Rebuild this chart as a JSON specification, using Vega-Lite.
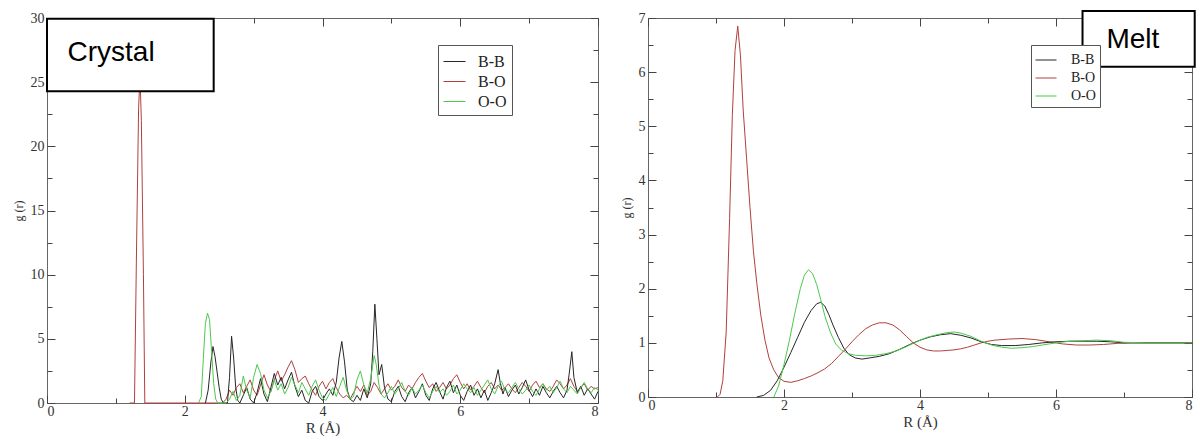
{
  "$schema": "https://vega.github.io/schema/vega-lite/v6.json",
  "background": "white",
  "padding": {"left": 11, "top": 9, "right": 2, "bottom": 2},
  "spacing": 18,
  "datasets": {
    "crystal": [
      {"pair":"B-O","r":1.20,"g":0},{"pair":"B-O","r":1.27,"g":0},{"pair":"B-O","r":1.30,"g":12},{"pair":"B-O","r":1.33,"g":23},{"pair":"B-O","r":1.35,"g":25.5},{"pair":"B-O","r":1.37,"g":22},{"pair":"B-O","r":1.40,"g":10},{"pair":"B-O","r":1.42,"g":0},{"pair":"B-O","r":2.55,"g":0},
      {"pair":"B-O","r":2.60,"g":0.3},{"pair":"B-O","r":2.65,"g":1.0},{"pair":"B-O","r":2.70,"g":0.6},{"pair":"B-O","r":2.75,"g":1.2},{"pair":"B-O","r":2.80,"g":1.5},{"pair":"B-O","r":2.85,"g":0.8},{"pair":"B-O","r":2.90,"g":1.3},{"pair":"B-O","r":2.95,"g":1.8},{"pair":"B-O","r":3.00,"g":1.0},{"pair":"B-O","r":3.05,"g":0.6},{"pair":"B-O","r":3.10,"g":1.4},{"pair":"B-O","r":3.15,"g":2.2},{"pair":"B-O","r":3.20,"g":1.4},{"pair":"B-O","r":3.25,"g":0.9},{"pair":"B-O","r":3.30,"g":1.8},{"pair":"B-O","r":3.35,"g":2.5},{"pair":"B-O","r":3.40,"g":1.7},{"pair":"B-O","r":3.45,"g":2.2},{"pair":"B-O","r":3.50,"g":2.8},{"pair":"B-O","r":3.55,"g":3.3},{"pair":"B-O","r":3.60,"g":2.6},{"pair":"B-O","r":3.65,"g":1.6},{"pair":"B-O","r":3.70,"g":1.9},{"pair":"B-O","r":3.75,"g":2.1},{"pair":"B-O","r":3.80,"g":1.5},{"pair":"B-O","r":3.85,"g":1.0},{"pair":"B-O","r":3.90,"g":0.6},{"pair":"B-O","r":3.95,"g":1.3},{"pair":"B-O","r":4.00,"g":1.7},{"pair":"B-O","r":4.05,"g":1.1},{"pair":"B-O","r":4.10,"g":1.6},{"pair":"B-O","r":4.15,"g":1.9},{"pair":"B-O","r":4.20,"g":1.2},{"pair":"B-O","r":4.25,"g":0.7},{"pair":"B-O","r":4.30,"g":0.4},{"pair":"B-O","r":4.35,"g":0.6},{"pair":"B-O","r":4.40,"g":0.3},{"pair":"B-O","r":4.45,"g":0.8},{"pair":"B-O","r":4.50,"g":1.3},{"pair":"B-O","r":4.55,"g":0.9},{"pair":"B-O","r":4.60,"g":1.4},{"pair":"B-O","r":4.65,"g":0.6},{"pair":"B-O","r":4.70,"g":0.9},{"pair":"B-O","r":4.75,"g":1.6},{"pair":"B-O","r":4.80,"g":1.2},{"pair":"B-O","r":4.85,"g":0.7},{"pair":"B-O","r":4.90,"g":1.1},{"pair":"B-O","r":4.95,"g":1.5},{"pair":"B-O","r":5.00,"g":1.0},{"pair":"B-O","r":5.05,"g":1.3},{"pair":"B-O","r":5.10,"g":1.8},{"pair":"B-O","r":5.15,"g":1.2},{"pair":"B-O","r":5.20,"g":0.9},{"pair":"B-O","r":5.25,"g":1.4},{"pair":"B-O","r":5.30,"g":1.1},{"pair":"B-O","r":5.35,"g":1.6},{"pair":"B-O","r":5.40,"g":2.0},{"pair":"B-O","r":5.45,"g":2.3},{"pair":"B-O","r":5.50,"g":1.7},{"pair":"B-O","r":5.55,"g":1.2},{"pair":"B-O","r":5.60,"g":1.5},{"pair":"B-O","r":5.65,"g":0.9},{"pair":"B-O","r":5.70,"g":1.2},{"pair":"B-O","r":5.75,"g":1.6},{"pair":"B-O","r":5.80,"g":1.1},{"pair":"B-O","r":5.85,"g":1.4},{"pair":"B-O","r":5.90,"g":1.9},{"pair":"B-O","r":5.95,"g":2.2},{"pair":"B-O","r":6.00,"g":1.6},{"pair":"B-O","r":6.05,"g":1.1},{"pair":"B-O","r":6.10,"g":1.5},{"pair":"B-O","r":6.15,"g":1.0},{"pair":"B-O","r":6.20,"g":1.3},{"pair":"B-O","r":6.25,"g":1.7},{"pair":"B-O","r":6.30,"g":1.2},{"pair":"B-O","r":6.35,"g":0.8},{"pair":"B-O","r":6.40,"g":1.3},{"pair":"B-O","r":6.45,"g":1.6},{"pair":"B-O","r":6.50,"g":1.1},{"pair":"B-O","r":6.55,"g":1.4},{"pair":"B-O","r":6.60,"g":1.0},{"pair":"B-O","r":6.65,"g":1.2},{"pair":"B-O","r":6.70,"g":1.5},{"pair":"B-O","r":6.75,"g":1.1},{"pair":"B-O","r":6.80,"g":0.8},{"pair":"B-O","r":6.85,"g":1.2},{"pair":"B-O","r":6.90,"g":1.6},{"pair":"B-O","r":6.95,"g":1.3},{"pair":"B-O","r":7.00,"g":0.9},{"pair":"B-O","r":7.05,"g":1.4},{"pair":"B-O","r":7.10,"g":1.7},{"pair":"B-O","r":7.15,"g":1.2},{"pair":"B-O","r":7.20,"g":1.5},{"pair":"B-O","r":7.25,"g":1.1},{"pair":"B-O","r":7.30,"g":0.9},{"pair":"B-O","r":7.35,"g":1.3},{"pair":"B-O","r":7.40,"g":1.8},{"pair":"B-O","r":7.45,"g":1.5},{"pair":"B-O","r":7.50,"g":1.1},{"pair":"B-O","r":7.55,"g":1.4},{"pair":"B-O","r":7.60,"g":1.9},{"pair":"B-O","r":7.65,"g":1.3},{"pair":"B-O","r":7.70,"g":0.9},{"pair":"B-O","r":7.75,"g":1.2},{"pair":"B-O","r":7.80,"g":1.5},{"pair":"B-O","r":7.85,"g":1.0},{"pair":"B-O","r":7.90,"g":1.3},{"pair":"B-O","r":7.95,"g":1.1},{"pair":"B-O","r":8.00,"g":1.2},
      {"pair":"B-B","r":2.30,"g":0},{"pair":"B-B","r":2.34,"g":1.0},{"pair":"B-B","r":2.38,"g":3.2},{"pair":"B-B","r":2.41,"g":4.4},{"pair":"B-B","r":2.44,"g":3.6},{"pair":"B-B","r":2.47,"g":2.4},{"pair":"B-B","r":2.50,"g":1.2},{"pair":"B-B","r":2.53,"g":0.3},{"pair":"B-B","r":2.56,"g":0},{"pair":"B-B","r":2.62,"g":0},{"pair":"B-B","r":2.65,"g":2.0},{"pair":"B-B","r":2.68,"g":5.2},{"pair":"B-B","r":2.71,"g":3.5},{"pair":"B-B","r":2.74,"g":1.2},{"pair":"B-B","r":2.77,"g":0.2},{"pair":"B-B","r":2.80,"g":0},{"pair":"B-B","r":2.85,"g":0.6},{"pair":"B-B","r":2.90,"g":1.2},{"pair":"B-B","r":2.95,"g":0.3},{"pair":"B-B","r":3.00,"g":0},{"pair":"B-B","r":3.05,"g":0.8},{"pair":"B-B","r":3.10,"g":1.9},{"pair":"B-B","r":3.15,"g":0.7},{"pair":"B-B","r":3.20,"g":0.1},{"pair":"B-B","r":3.25,"g":1.2},{"pair":"B-B","r":3.30,"g":2.3},{"pair":"B-B","r":3.35,"g":1.4},{"pair":"B-B","r":3.40,"g":2.0},{"pair":"B-B","r":3.45,"g":1.1},{"pair":"B-B","r":3.50,"g":1.8},{"pair":"B-B","r":3.55,"g":2.4},{"pair":"B-B","r":3.60,"g":1.3},{"pair":"B-B","r":3.65,"g":0.5},{"pair":"B-B","r":3.70,"g":1.0},{"pair":"B-B","r":3.75,"g":0.2},{"pair":"B-B","r":3.80,"g":0},{"pair":"B-B","r":3.85,"g":0.9},{"pair":"B-B","r":3.90,"g":1.3},{"pair":"B-B","r":3.95,"g":0.5},{"pair":"B-B","r":4.00,"g":0.2},{"pair":"B-B","r":4.05,"g":0.7},{"pair":"B-B","r":4.10,"g":1.1},{"pair":"B-B","r":4.15,"g":0.6},{"pair":"B-B","r":4.20,"g":1.6},{"pair":"B-B","r":4.24,"g":3.5},{"pair":"B-B","r":4.28,"g":4.8},{"pair":"B-B","r":4.32,"g":3.2},{"pair":"B-B","r":4.36,"g":1.0},{"pair":"B-B","r":4.40,"g":0.3},{"pair":"B-B","r":4.45,"g":0.1},{"pair":"B-B","r":4.50,"g":0.6},{"pair":"B-B","r":4.55,"g":0.2},{"pair":"B-B","r":4.60,"g":1.1},{"pair":"B-B","r":4.65,"g":0.4},{"pair":"B-B","r":4.70,"g":1.5},{"pair":"B-B","r":4.73,"g":4.0},{"pair":"B-B","r":4.76,"g":7.7},{"pair":"B-B","r":4.79,"g":5.0},{"pair":"B-B","r":4.82,"g":2.2},{"pair":"B-B","r":4.86,"g":3.0},{"pair":"B-B","r":4.90,"g":1.2},{"pair":"B-B","r":4.95,"g":0.3},{"pair":"B-B","r":5.00,"g":0.1},{"pair":"B-B","r":5.05,"g":0.9},{"pair":"B-B","r":5.10,"g":1.3},{"pair":"B-B","r":5.15,"g":0.5},{"pair":"B-B","r":5.20,"g":0.1},{"pair":"B-B","r":5.25,"g":0.8},{"pair":"B-B","r":5.30,"g":1.2},{"pair":"B-B","r":5.35,"g":0.4},{"pair":"B-B","r":5.40,"g":0.9},{"pair":"B-B","r":5.45,"g":1.5},{"pair":"B-B","r":5.50,"g":0.6},{"pair":"B-B","r":5.55,"g":0.2},{"pair":"B-B","r":5.60,"g":1.1},{"pair":"B-B","r":5.65,"g":1.6},{"pair":"B-B","r":5.70,"g":0.9},{"pair":"B-B","r":5.75,"g":0.3},{"pair":"B-B","r":5.80,"g":1.2},{"pair":"B-B","r":5.85,"g":1.7},{"pair":"B-B","r":5.90,"g":0.8},{"pair":"B-B","r":5.95,"g":1.4},{"pair":"B-B","r":6.00,"g":0.6},{"pair":"B-B","r":6.05,"g":0.2},{"pair":"B-B","r":6.10,"g":0.9},{"pair":"B-B","r":6.15,"g":1.4},{"pair":"B-B","r":6.20,"g":0.6},{"pair":"B-B","r":6.25,"g":1.1},{"pair":"B-B","r":6.30,"g":0.4},{"pair":"B-B","r":6.35,"g":1.0},{"pair":"B-B","r":6.40,"g":0.2},{"pair":"B-B","r":6.45,"g":0.8},{"pair":"B-B","r":6.50,"g":1.5},{"pair":"B-B","r":6.55,"g":2.6},{"pair":"B-B","r":6.58,"g":1.6},{"pair":"B-B","r":6.62,"g":0.7},{"pair":"B-B","r":6.65,"g":1.2},{"pair":"B-B","r":6.70,"g":0.5},{"pair":"B-B","r":6.75,"g":1.0},{"pair":"B-B","r":6.80,"g":1.4},{"pair":"B-B","r":6.85,"g":0.7},{"pair":"B-B","r":6.90,"g":1.2},{"pair":"B-B","r":6.95,"g":1.8},{"pair":"B-B","r":7.00,"g":1.0},{"pair":"B-B","r":7.05,"g":0.5},{"pair":"B-B","r":7.10,"g":1.1},{"pair":"B-B","r":7.15,"g":0.6},{"pair":"B-B","r":7.20,"g":1.3},{"pair":"B-B","r":7.25,"g":0.8},{"pair":"B-B","r":7.30,"g":0.4},{"pair":"B-B","r":7.35,"g":0.9},{"pair":"B-B","r":7.40,"g":1.3},{"pair":"B-B","r":7.45,"g":0.8},{"pair":"B-B","r":7.50,"g":0.4},{"pair":"B-B","r":7.55,"g":1.0},{"pair":"B-B","r":7.58,"g":2.2},{"pair":"B-B","r":7.62,"g":4.0},{"pair":"B-B","r":7.65,"g":2.0},{"pair":"B-B","r":7.70,"g":0.8},{"pair":"B-B","r":7.75,"g":1.3},{"pair":"B-B","r":7.80,"g":0.6},{"pair":"B-B","r":7.85,"g":1.1},{"pair":"B-B","r":7.90,"g":0.7},{"pair":"B-B","r":7.95,"g":0.3},{"pair":"B-B","r":8.00,"g":0.9},
      {"pair":"O-O","r":2.20,"g":0},{"pair":"O-O","r":2.24,"g":0.5},{"pair":"O-O","r":2.27,"g":3.5},{"pair":"O-O","r":2.30,"g":6.2},{"pair":"O-O","r":2.33,"g":7.0},{"pair":"O-O","r":2.36,"g":6.5},{"pair":"O-O","r":2.39,"g":4.0},{"pair":"O-O","r":2.42,"g":1.5},{"pair":"O-O","r":2.45,"g":0.3},{"pair":"O-O","r":2.48,"g":0},{"pair":"O-O","r":2.60,"g":0},{"pair":"O-O","r":2.65,"g":0.3},{"pair":"O-O","r":2.70,"g":0.9},{"pair":"O-O","r":2.75,"g":0.2},{"pair":"O-O","r":2.80,"g":0.6},{"pair":"O-O","r":2.85,"g":2.1},{"pair":"O-O","r":2.90,"g":1.0},{"pair":"O-O","r":2.95,"g":0.4},{"pair":"O-O","r":3.00,"g":2.0},{"pair":"O-O","r":3.05,"g":3.0},{"pair":"O-O","r":3.10,"g":2.3},{"pair":"O-O","r":3.15,"g":1.0},{"pair":"O-O","r":3.20,"g":0.4},{"pair":"O-O","r":3.25,"g":0.9},{"pair":"O-O","r":3.30,"g":1.8},{"pair":"O-O","r":3.35,"g":1.0},{"pair":"O-O","r":3.40,"g":1.5},{"pair":"O-O","r":3.45,"g":0.7},{"pair":"O-O","r":3.50,"g":1.2},{"pair":"O-O","r":3.55,"g":2.0},{"pair":"O-O","r":3.60,"g":1.4},{"pair":"O-O","r":3.65,"g":0.8},{"pair":"O-O","r":3.70,"g":1.6},{"pair":"O-O","r":3.75,"g":1.1},{"pair":"O-O","r":3.80,"g":0.6},{"pair":"O-O","r":3.85,"g":1.3},{"pair":"O-O","r":3.90,"g":1.8},{"pair":"O-O","r":3.95,"g":1.0},{"pair":"O-O","r":4.00,"g":0.4},{"pair":"O-O","r":4.05,"g":0.2},{"pair":"O-O","r":4.10,"g":0.7},{"pair":"O-O","r":4.15,"g":1.2},{"pair":"O-O","r":4.20,"g":0.5},{"pair":"O-O","r":4.25,"g":1.3},{"pair":"O-O","r":4.30,"g":2.0},{"pair":"O-O","r":4.35,"g":1.0},{"pair":"O-O","r":4.40,"g":0.3},{"pair":"O-O","r":4.45,"g":0.5},{"pair":"O-O","r":4.50,"g":1.8},{"pair":"O-O","r":4.55,"g":2.5},{"pair":"O-O","r":4.60,"g":1.4},{"pair":"O-O","r":4.65,"g":0.8},{"pair":"O-O","r":4.70,"g":1.9},{"pair":"O-O","r":4.75,"g":3.7},{"pair":"O-O","r":4.78,"g":3.0},{"pair":"O-O","r":4.82,"g":1.4},{"pair":"O-O","r":4.85,"g":0.7},{"pair":"O-O","r":4.90,"g":0.4},{"pair":"O-O","r":4.95,"g":0.8},{"pair":"O-O","r":5.00,"g":1.3},{"pair":"O-O","r":5.05,"g":0.7},{"pair":"O-O","r":5.10,"g":1.1},{"pair":"O-O","r":5.15,"g":1.6},{"pair":"O-O","r":5.20,"g":0.9},{"pair":"O-O","r":5.25,"g":0.6},{"pair":"O-O","r":5.30,"g":1.2},{"pair":"O-O","r":5.35,"g":0.7},{"pair":"O-O","r":5.40,"g":1.0},{"pair":"O-O","r":5.45,"g":1.4},{"pair":"O-O","r":5.50,"g":0.8},{"pair":"O-O","r":5.55,"g":0.4},{"pair":"O-O","r":5.60,"g":0.9},{"pair":"O-O","r":5.65,"g":1.3},{"pair":"O-O","r":5.70,"g":0.8},{"pair":"O-O","r":5.75,"g":1.1},{"pair":"O-O","r":5.80,"g":0.6},{"pair":"O-O","r":5.85,"g":0.9},{"pair":"O-O","r":5.90,"g":1.4},{"pair":"O-O","r":5.95,"g":0.7},{"pair":"O-O","r":6.00,"g":1.0},{"pair":"O-O","r":6.05,"g":1.5},{"pair":"O-O","r":6.10,"g":1.1},{"pair":"O-O","r":6.15,"g":0.8},{"pair":"O-O","r":6.20,"g":1.2},{"pair":"O-O","r":6.25,"g":0.6},{"pair":"O-O","r":6.30,"g":1.0},{"pair":"O-O","r":6.35,"g":1.4},{"pair":"O-O","r":6.40,"g":1.8},{"pair":"O-O","r":6.45,"g":1.1},{"pair":"O-O","r":6.50,"g":0.7},{"pair":"O-O","r":6.55,"g":1.3},{"pair":"O-O","r":6.60,"g":1.7},{"pair":"O-O","r":6.65,"g":1.0},{"pair":"O-O","r":6.70,"g":0.8},{"pair":"O-O","r":6.75,"g":1.2},{"pair":"O-O","r":6.80,"g":1.6},{"pair":"O-O","r":6.85,"g":1.1},{"pair":"O-O","r":6.90,"g":0.7},{"pair":"O-O","r":6.95,"g":1.0},{"pair":"O-O","r":7.00,"g":1.4},{"pair":"O-O","r":7.05,"g":0.9},{"pair":"O-O","r":7.10,"g":0.6},{"pair":"O-O","r":7.15,"g":1.1},{"pair":"O-O","r":7.20,"g":1.5},{"pair":"O-O","r":7.25,"g":1.0},{"pair":"O-O","r":7.30,"g":1.3},{"pair":"O-O","r":7.35,"g":0.8},{"pair":"O-O","r":7.40,"g":1.2},{"pair":"O-O","r":7.45,"g":1.7},{"pair":"O-O","r":7.50,"g":1.1},{"pair":"O-O","r":7.55,"g":0.8},{"pair":"O-O","r":7.60,"g":1.3},{"pair":"O-O","r":7.65,"g":1.0},{"pair":"O-O","r":7.70,"g":0.7},{"pair":"O-O","r":7.75,"g":1.2},{"pair":"O-O","r":7.80,"g":1.6},{"pair":"O-O","r":7.85,"g":1.1},{"pair":"O-O","r":7.90,"g":0.8},{"pair":"O-O","r":7.95,"g":1.2},{"pair":"O-O","r":8.00,"g":1.0}
    ],
    "melt": [
      {"pair":"B-O","r":1.02,"g":0},{"pair":"B-O","r":1.06,"g":0.05},{"pair":"B-O","r":1.10,"g":0.3},{"pair":"B-O","r":1.15,"g":1.2},{"pair":"B-O","r":1.20,"g":3.3},{"pair":"B-O","r":1.24,"g":5.2},{"pair":"B-O","r":1.28,"g":6.4},{"pair":"B-O","r":1.32,"g":6.85},{"pair":"B-O","r":1.36,"g":6.3},{"pair":"B-O","r":1.40,"g":5.3},{"pair":"B-O","r":1.45,"g":4.4},{"pair":"B-O","r":1.50,"g":3.5},{"pair":"B-O","r":1.55,"g":2.7},{"pair":"B-O","r":1.60,"g":2.1},{"pair":"B-O","r":1.66,"g":1.5},{"pair":"B-O","r":1.72,"g":1.05},{"pair":"B-O","r":1.78,"g":0.72},{"pair":"B-O","r":1.85,"g":0.5},{"pair":"B-O","r":1.92,"g":0.36},{"pair":"B-O","r":2.00,"g":0.29},{"pair":"B-O","r":2.10,"g":0.27},{"pair":"B-O","r":2.20,"g":0.3},{"pair":"B-O","r":2.30,"g":0.34},{"pair":"B-O","r":2.40,"g":0.39},{"pair":"B-O","r":2.50,"g":0.45},{"pair":"B-O","r":2.60,"g":0.52},{"pair":"B-O","r":2.70,"g":0.62},{"pair":"B-O","r":2.80,"g":0.75},{"pair":"B-O","r":2.90,"g":0.88},{"pair":"B-O","r":3.00,"g":1.02},{"pair":"B-O","r":3.10,"g":1.15},{"pair":"B-O","r":3.20,"g":1.26},{"pair":"B-O","r":3.30,"g":1.33},{"pair":"B-O","r":3.40,"g":1.37},{"pair":"B-O","r":3.50,"g":1.37},{"pair":"B-O","r":3.60,"g":1.33},{"pair":"B-O","r":3.70,"g":1.24},{"pair":"B-O","r":3.80,"g":1.12},{"pair":"B-O","r":3.90,"g":1.0},{"pair":"B-O","r":4.00,"g":0.92},{"pair":"B-O","r":4.10,"g":0.87},{"pair":"B-O","r":4.20,"g":0.85},{"pair":"B-O","r":4.30,"g":0.85},{"pair":"B-O","r":4.40,"g":0.86},{"pair":"B-O","r":4.50,"g":0.87},{"pair":"B-O","r":4.60,"g":0.89},{"pair":"B-O","r":4.70,"g":0.92},{"pair":"B-O","r":4.80,"g":0.96},{"pair":"B-O","r":4.90,"g":1.0},{"pair":"B-O","r":5.00,"g":1.03},{"pair":"B-O","r":5.10,"g":1.05},{"pair":"B-O","r":5.30,"g":1.07},{"pair":"B-O","r":5.50,"g":1.08},{"pair":"B-O","r":5.70,"g":1.06},{"pair":"B-O","r":5.90,"g":1.02},{"pair":"B-O","r":6.10,"g":0.98},{"pair":"B-O","r":6.30,"g":0.96},{"pair":"B-O","r":6.50,"g":0.96},{"pair":"B-O","r":6.70,"g":0.97},{"pair":"B-O","r":6.90,"g":0.99},{"pair":"B-O","r":7.10,"g":1.0},{"pair":"B-O","r":7.50,"g":1.0},{"pair":"B-O","r":8.00,"g":1.0},
      {"pair":"B-B","r":1.60,"g":0},{"pair":"B-B","r":1.70,"g":0.03},{"pair":"B-B","r":1.80,"g":0.12},{"pair":"B-B","r":1.90,"g":0.3},{"pair":"B-B","r":2.00,"g":0.55},{"pair":"B-B","r":2.10,"g":0.82},{"pair":"B-B","r":2.20,"g":1.1},{"pair":"B-B","r":2.30,"g":1.38},{"pair":"B-B","r":2.40,"g":1.6},{"pair":"B-B","r":2.48,"g":1.72},{"pair":"B-B","r":2.54,"g":1.75},{"pair":"B-B","r":2.60,"g":1.68},{"pair":"B-B","r":2.66,"g":1.52},{"pair":"B-B","r":2.72,"g":1.33},{"pair":"B-B","r":2.80,"g":1.1},{"pair":"B-B","r":2.88,"g":0.9},{"pair":"B-B","r":2.96,"g":0.78},{"pair":"B-B","r":3.05,"g":0.72},{"pair":"B-B","r":3.15,"g":0.7},{"pair":"B-B","r":3.25,"g":0.72},{"pair":"B-B","r":3.40,"g":0.75},{"pair":"B-B","r":3.55,"g":0.8},{"pair":"B-B","r":3.70,"g":0.88},{"pair":"B-B","r":3.85,"g":0.97},{"pair":"B-B","r":4.00,"g":1.05},{"pair":"B-B","r":4.15,"g":1.11},{"pair":"B-B","r":4.30,"g":1.15},{"pair":"B-B","r":4.45,"g":1.17},{"pair":"B-B","r":4.60,"g":1.14},{"pair":"B-B","r":4.75,"g":1.09},{"pair":"B-B","r":4.90,"g":1.02},{"pair":"B-B","r":5.05,"g":0.97},{"pair":"B-B","r":5.20,"g":0.95},{"pair":"B-B","r":5.40,"g":0.95},{"pair":"B-B","r":5.60,"g":0.97},{"pair":"B-B","r":5.80,"g":1.0},{"pair":"B-B","r":6.00,"g":1.02},{"pair":"B-B","r":6.20,"g":1.03},{"pair":"B-B","r":6.40,"g":1.03},{"pair":"B-B","r":6.60,"g":1.03},{"pair":"B-B","r":6.80,"g":1.02},{"pair":"B-B","r":7.00,"g":1.0},{"pair":"B-B","r":7.50,"g":1.0},{"pair":"B-B","r":8.00,"g":1.0},
      {"pair":"O-O","r":1.85,"g":0},{"pair":"O-O","r":1.92,"g":0.2},{"pair":"O-O","r":2.00,"g":0.6},{"pair":"O-O","r":2.08,"g":1.05},{"pair":"O-O","r":2.16,"g":1.55},{"pair":"O-O","r":2.24,"g":2.0},{"pair":"O-O","r":2.30,"g":2.25},{"pair":"O-O","r":2.36,"g":2.35},{"pair":"O-O","r":2.42,"g":2.28},{"pair":"O-O","r":2.48,"g":2.08},{"pair":"O-O","r":2.54,"g":1.8},{"pair":"O-O","r":2.60,"g":1.5},{"pair":"O-O","r":2.68,"g":1.2},{"pair":"O-O","r":2.76,"g":0.98},{"pair":"O-O","r":2.85,"g":0.86},{"pair":"O-O","r":2.95,"g":0.8},{"pair":"O-O","r":3.05,"g":0.77},{"pair":"O-O","r":3.20,"g":0.76},{"pair":"O-O","r":3.35,"g":0.77},{"pair":"O-O","r":3.50,"g":0.8},{"pair":"O-O","r":3.65,"g":0.85},{"pair":"O-O","r":3.80,"g":0.93},{"pair":"O-O","r":3.95,"g":1.02},{"pair":"O-O","r":4.10,"g":1.1},{"pair":"O-O","r":4.25,"g":1.15},{"pair":"O-O","r":4.40,"g":1.19},{"pair":"O-O","r":4.50,"g":1.2},{"pair":"O-O","r":4.60,"g":1.18},{"pair":"O-O","r":4.75,"g":1.12},{"pair":"O-O","r":4.90,"g":1.03},{"pair":"O-O","r":5.05,"g":0.96},{"pair":"O-O","r":5.20,"g":0.92},{"pair":"O-O","r":5.35,"g":0.9},{"pair":"O-O","r":5.50,"g":0.91},{"pair":"O-O","r":5.65,"g":0.93},{"pair":"O-O","r":5.80,"g":0.96},{"pair":"O-O","r":6.00,"g":1.0},{"pair":"O-O","r":6.20,"g":1.03},{"pair":"O-O","r":6.40,"g":1.04},{"pair":"O-O","r":6.60,"g":1.05},{"pair":"O-O","r":6.80,"g":1.04},{"pair":"O-O","r":7.00,"g":1.01},{"pair":"O-O","r":7.30,"g":1.0},{"pair":"O-O","r":8.00,"g":1.0}
    ],
    "boxes": [
      {"panel":"crystal","label":"Crystal","x1":0.0,"x2":2.42,"y1":24.3,"y2":29.95,"tx":0.93,"ty":27.3},
      {"panel":"melt","label":"Melt","x1":6.39,"x2":8.04,"y1":6.1,"y2":7.13,"tx":7.13,"ty":6.6}
    ]
  },
  "resolve": {"scale": {"color": "independent"}, "legend": {"color": "independent"}},
  "hconcat": [
    {
      "width": 551,
      "height": 385,
      "resolve": {"axis": {"x": "independent", "y": "independent"}},
      "layer": [
        {
          "data": {"name": "crystal"},
          "mark": {"type": "line", "strokeWidth": 1},
          "encoding": {
            "x": {"field": "r", "type": "quantitative", "scale": {"domain": [0, 8], "nice": false},
              "axis": {"title": "R (Å)", "orient": "bottom", "values": [0,1,2,3,4,5,6,7,8],
                "labelExpr": "datum.value % 2 === 0 ? format(datum.value, 'd') : ''",
                "tickSize": {"condition": {"test": "datum.value % 2 === 0", "value": -8}, "value": -5}}},
            "y": {"field": "g", "type": "quantitative", "scale": {"domain": [0, 30], "nice": false},
              "axis": {"title": "g (r)", "orient": "left", "values": [0,2.5,5,7.5,10,12.5,15,17.5,20,22.5,25,27.5,30],
                "labelExpr": "datum.value % 5 === 0 ? format(datum.value, 'd') : ''",
                "tickSize": {"condition": {"test": "datum.value % 5 === 0", "value": -8}, "value": -5}}},
            "color": {"field": "pair", "type": "nominal",
              "scale": {"domain": ["B-B", "B-O", "O-O"], "range": ["#262626", "#b0403f", "#4cc94c"]},
              "legend": {"orient": "none", "legendX": 391, "legendY": 27, "title": null, "zindex": -1,
                "strokeColor": "#555", "fillColor": "white", "padding": 5, "symbolType": "stroke",
                "symbolSize": 484, "symbolStrokeWidth": 1, "labelOffset": 12, "rowPadding": -6,
                "labelFont": "Liberation Serif", "labelFontSize": 16, "labelColor": "#222"}}
          }
        },
        {
          "data": {"name": "boxes"},
          "transform": [{"filter": "datum.panel === 'crystal'"}],
          "mark": {"type": "rect", "fill": "white", "stroke": "black", "strokeWidth": 2},
          "encoding": {
            "x": {"field": "x1", "type": "quantitative",
              "axis": {"orient": "top", "title": null, "labels": false, "values": [0,1,2,3,4,5,6,7,8],
                "tickSize": {"condition": {"test": "datum.value % 2 === 0", "value": -8}, "value": -5}}},
            "x2": {"field": "x2"},
            "y": {"field": "y1", "type": "quantitative",
              "axis": {"orient": "right", "title": null, "labels": false, "values": [0,2.5,5,7.5,10,12.5,15,17.5,20,22.5,25,27.5,30],
                "tickSize": {"condition": {"test": "datum.value % 5 === 0", "value": -8}, "value": -5}}},
            "y2": {"field": "y2"}
          }
        },
        {
          "data": {"name": "boxes"},
          "transform": [{"filter": "datum.panel === 'crystal'"}],
          "mark": {"type": "text", "font": "Liberation Sans", "fontSize": 28, "color": "black"},
          "encoding": {
            "x": {"field": "tx", "type": "quantitative", "axis": null},
            "y": {"field": "ty", "type": "quantitative", "axis": null},
            "text": {"field": "label"}
          }
        }
      ]
    },
    {
      "width": 544,
      "height": 379,
      "resolve": {"axis": {"x": "independent", "y": "independent"}},
      "layer": [
        {
          "data": {"name": "melt"},
          "mark": {"type": "line", "strokeWidth": 1},
          "encoding": {
            "x": {"field": "r", "type": "quantitative", "scale": {"domain": [0, 8], "nice": false},
              "axis": {"title": "R (Å)", "orient": "bottom", "values": [0,1,2,3,4,5,6,7,8],
                "labelExpr": "datum.value % 2 === 0 ? format(datum.value, 'd') : ''",
                "tickSize": {"condition": {"test": "datum.value % 2 === 0", "value": -8}, "value": -5}}},
            "y": {"field": "g", "type": "quantitative", "scale": {"domain": [0, 7], "nice": false},
              "axis": {"title": "g (r)", "orient": "left", "values": [0,0.5,1,1.5,2,2.5,3,3.5,4,4.5,5,5.5,6,6.5,7],
                "labelExpr": "datum.value % 1 === 0 ? format(datum.value, 'd') : ''",
                "tickSize": {"condition": {"test": "datum.value % 1 === 0", "value": -8}, "value": -5}}},
            "color": {"field": "pair", "type": "nominal",
              "scale": {"domain": ["B-B", "B-O", "O-O"], "range": ["#262626", "#b0403f", "#4cc94c"]},
              "legend": {"orient": "none", "legendX": 383, "legendY": 27, "title": null, "zindex": -1,
                "strokeColor": "#555", "fillColor": "white", "padding": 4, "symbolType": "stroke",
                "symbolSize": 441, "symbolStrokeWidth": 1, "labelOffset": 14, "rowPadding": -8,
                "labelFont": "Liberation Serif", "labelFontSize": 14, "labelColor": "#222"}}
          }
        },
        {
          "data": {"name": "boxes"},
          "transform": [{"filter": "datum.panel === 'melt'"}],
          "mark": {"type": "rect", "fill": "white", "stroke": "black", "strokeWidth": 2},
          "encoding": {
            "x": {"field": "x1", "type": "quantitative",
              "axis": {"orient": "top", "title": null, "labels": false, "values": [0,1,2,3,4,5,6,7,8],
                "tickSize": {"condition": {"test": "datum.value % 2 === 0", "value": -8}, "value": -5}}},
            "x2": {"field": "x2"},
            "y": {"field": "y1", "type": "quantitative",
              "axis": {"orient": "right", "title": null, "labels": false, "values": [0,0.5,1,1.5,2,2.5,3,3.5,4,4.5,5,5.5,6,6.5,7],
                "tickSize": {"condition": {"test": "datum.value % 1 === 0", "value": -8}, "value": -5}}},
            "y2": {"field": "y2"}
          }
        },
        {
          "data": {"name": "boxes"},
          "transform": [{"filter": "datum.panel === 'melt'"}],
          "mark": {"type": "text", "font": "Liberation Sans", "fontSize": 28, "color": "black"},
          "encoding": {
            "x": {"field": "tx", "type": "quantitative", "axis": null},
            "y": {"field": "ty", "type": "quantitative", "axis": null},
            "text": {"field": "label"}
          }
        }
      ]
    }
  ],
  "config": {
    "view": {"stroke": "#666", "strokeWidth": 1},
    "axis": {"domain": false, "grid": false, "labelFont": "Liberation Serif", "labelFontSize": 14, "labelColor": "#333",
      "titleFont": "Liberation Serif", "titleFontWeight": "normal", "titleColor": "#333", "tickColor": "#444", "tickWidth": 1},
    "axisX": {"labelPadding": 9, "titleFontSize": 15, "titlePadding": 2},
    "axisY": {"labelPadding": 11, "titleFontSize": 12, "titlePadding": 5}
  }
}
